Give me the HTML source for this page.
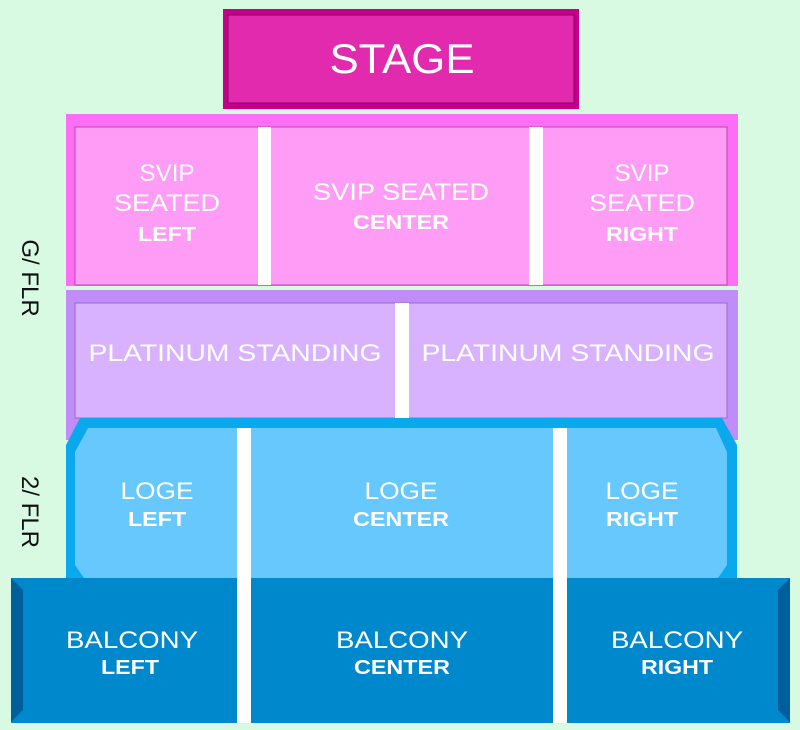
<!DOCTYPE html>
<html><head><style>
body{margin:0;background:#d8f9e2;}
svg{display:block}
text{font-family:"Liberation Sans",sans-serif;fill:#fff;text-anchor:middle}
.b{font-weight:bold}
</style></head><body>
<svg width="800" height="730" viewBox="0 0 800 730">
<rect width="800" height="730" fill="#d8f9e2"/>
<!-- stage -->
<rect x="223" y="9" width="356" height="100" fill="#c4008a"/>
<rect x="228" y="15" width="346" height="88" fill="#e22aae" stroke="#8a0060" stroke-width="1"/>
<text x="402" y="73" font-size="42" textLength="145" lengthAdjust="spacingAndGlyphs">STAGE</text>
<!-- SVIP band -->
<rect x="66" y="114" width="672" height="172" fill="#fd6ef6"/>
<rect x="75" y="127" width="652" height="158" fill="#ff9cf6" stroke="#b64aa8" stroke-width="1"/>
<rect x="258" y="127" width="13" height="158" fill="#fff"/>
<rect x="529" y="127" width="14" height="158" fill="#fff"/>
<g font-size="24">
<text x="167" y="181" textLength="55" lengthAdjust="spacingAndGlyphs">SVIP</text><text x="167" y="211" textLength="106" lengthAdjust="spacingAndGlyphs">SEATED</text>
<text x="167" y="241" class="b" font-size="20" textLength="58" lengthAdjust="spacingAndGlyphs">LEFT</text>
<text x="401" y="200" textLength="176" lengthAdjust="spacingAndGlyphs">SVIP SEATED</text>
<text x="401" y="229" class="b" font-size="20" textLength="96" lengthAdjust="spacingAndGlyphs">CENTER</text>
<text x="642" y="181" textLength="55" lengthAdjust="spacingAndGlyphs">SVIP</text><text x="642" y="211" textLength="106" lengthAdjust="spacingAndGlyphs">SEATED</text>
<text x="642" y="241" class="b" font-size="20" textLength="72" lengthAdjust="spacingAndGlyphs">RIGHT</text>
</g>
<!-- platinum -->
<rect x="66" y="290" width="672" height="150" fill="#c08cf8"/>
<rect x="75" y="303" width="652" height="115" fill="#d8b2ff" stroke="#9a6ad0" stroke-width="1"/>
<rect x="395" y="303" width="14" height="115" fill="#fff"/>
<g font-size="24">
<text x="235" y="361" textLength="293" lengthAdjust="spacingAndGlyphs">PLATINUM STANDING</text>
<text x="568" y="361" textLength="293" lengthAdjust="spacingAndGlyphs">PLATINUM STANDING</text>
</g>
<!-- loge -->
<polygon points="80,418 722,418 737,445 737,578 66,578 66,445" fill="#0aa8ec"/>
<polygon points="88,428 237,428 237,578 84,578 75,565 75,452" fill="#66c8fc"/>
<rect x="251" y="428" width="302" height="150" fill="#66c8fc"/>
<polygon points="567,428 716,428 727,452 727,565 718,578 567,578" fill="#66c8fc"/>
<rect x="237" y="428" width="14" height="295" fill="#fff"/>
<rect x="553" y="428" width="14" height="295" fill="#fff"/>
<g font-size="24">
<text x="157" y="499" textLength="73" lengthAdjust="spacingAndGlyphs">LOGE</text><text x="157" y="526" class="b" font-size="20" textLength="58" lengthAdjust="spacingAndGlyphs">LEFT</text>
<text x="401" y="499" textLength="73" lengthAdjust="spacingAndGlyphs">LOGE</text><text x="401" y="526" class="b" font-size="20" textLength="96" lengthAdjust="spacingAndGlyphs">CENTER</text>
<text x="642" y="499" textLength="73" lengthAdjust="spacingAndGlyphs">LOGE</text><text x="642" y="526" class="b" font-size="20" textLength="72" lengthAdjust="spacingAndGlyphs">RIGHT</text>
</g>
<!-- balcony -->
<rect x="11" y="578" width="226" height="145" fill="#0088cc"/>
<polygon points="11,578 23,590 23,710 11,722" fill="#005e9c"/>
<rect x="251" y="578" width="302" height="145" fill="#0088cc"/>
<rect x="567" y="578" width="223" height="145" fill="#0088cc"/>
<polygon points="790,578 778,590 778,710 790,722" fill="#005e9c"/>
<g font-size="24">
<text x="132" y="648" textLength="132" lengthAdjust="spacingAndGlyphs">BALCONY</text><text x="130" y="674" class="b" font-size="20" textLength="58" lengthAdjust="spacingAndGlyphs">LEFT</text>
<text x="402" y="648" textLength="132" lengthAdjust="spacingAndGlyphs">BALCONY</text><text x="402" y="674" class="b" font-size="20" textLength="96" lengthAdjust="spacingAndGlyphs">CENTER</text>
<text x="677" y="648" textLength="132" lengthAdjust="spacingAndGlyphs">BALCONY</text><text x="677" y="674" class="b" font-size="20" textLength="72" lengthAdjust="spacingAndGlyphs">RIGHT</text>
</g>
<!-- side labels -->
<text x="278" y="-22" font-size="24" style="fill:#111" transform="rotate(90)">G/ FLR</text>
<text x="512" y="-22" font-size="24" style="fill:#111" transform="rotate(90)">2/ FLR</text>
</svg>
</body></html>
